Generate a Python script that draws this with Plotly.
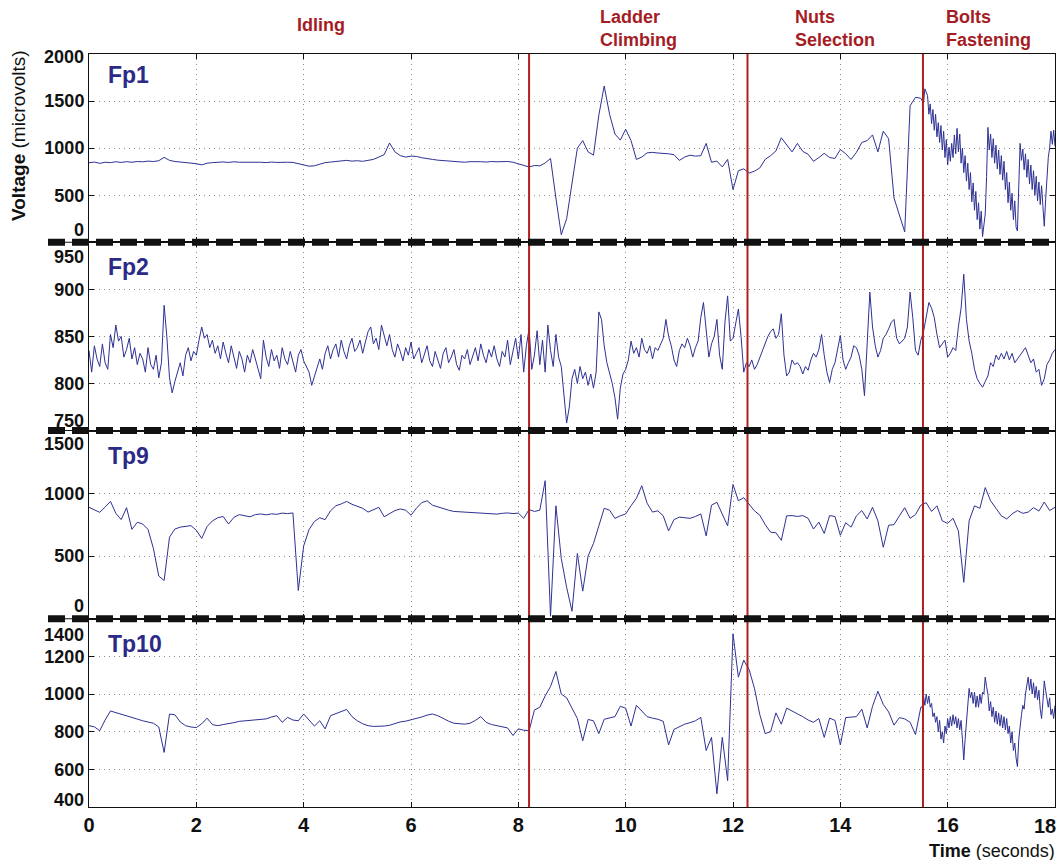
import numpy as np
import plotly.graph_objects as go
from plotly.subplots import make_subplots

# ---------------- data (microvolts) ----------------
# Fp1: 0.0 .. 15.5 s every 0.1 s, then 15.525 .. 18.0 s every 0.025 s
fp1_a = [845, 852, 838, 850, 846, 855, 848, 856, 850, 858,
         855, 862, 858, 866, 902, 870, 858, 852, 848, 845,
         835, 822, 840, 846, 850, 853, 848, 855, 850, 852,
         848, 853, 850, 846, 852, 848, 845, 850, 848, 836,
         816, 808, 812, 830, 846, 852, 858, 866, 870, 862,
         866, 860, 868, 880, 905, 930, 1055, 960, 920, 905,
         915, 912, 898, 886, 880, 872, 868, 860, 855, 852,
         850, 856, 858, 856, 852, 858, 855, 860, 858, 850,
         832, 815, 800, 815, 812, 842, 890, 470, 80, 250,
         620, 1000, 1080, 960, 925, 1350, 1660, 1360, 1150, 1085,
         1200, 1080, 880, 905, 950, 955, 948, 945, 940, 930,
         870, 905, 925, 915, 920, 1050, 850, 862, 800, 880,
         560, 760, 780, 735, 755, 790, 880, 920, 970, 1110,
         1030, 960, 1050, 965, 935, 860, 900, 945, 900, 890,
         985, 940, 880, 955, 1060, 1080, 1140, 960, 1180, 1100,
         470, 280, 110, 1450, 1540, 1530]
fp1_b = [1510, 1480, 1630, 1600, 1560, 1360, 1470, 1260, 1410, 1190,
         1360, 1120, 1270, 1060, 1240, 980, 1180, 900, 1090, 820,
         1010, 860, 1050, 900, 1140, 940, 1210, 960, 1150, 840,
         1000, 740, 920, 650, 840, 560, 740, 430, 630, 340,
         540, 240, 420, 140, 330, 60, 200, 300, 700, 1220,
         980, 1150, 900, 1100, 840, 1030, 780, 980, 720, 920,
         660, 860, 560, 740, 420, 640, 340, 520, 240, 440,
         160, 120, 600, 1050, 870, 990, 770, 940, 690, 880,
         620, 820, 560, 760, 500, 700, 440, 640, 400, 600,
         380, 170, 450, 720, 900, 1000, 1180, 1040, 1190, 1020]

# Fp2: 0.0 .. 18.0 s every 0.05 s
fp2 = [835, 812, 840, 826, 818, 842, 822, 815, 852, 838, 862, 845, 850, 828, 836, 848, 826, 838, 820, 832,
       826, 812, 838, 820, 815, 830, 806, 822, 883, 850, 806, 790, 802, 812, 822, 808, 830, 838, 824, 834,
       830, 846, 860, 848, 852, 838, 846, 832, 840, 826, 844, 832, 822, 840, 828, 816, 834, 826, 812, 830,
       822, 836, 826, 815, 805, 846, 828, 818, 836, 824, 830, 816, 838, 826, 820, 834, 824, 812, 830, 836,
       824, 818, 812, 798, 808, 816, 826, 815, 832, 840, 826, 836, 842, 828, 846, 834, 826, 840, 848, 834,
       838, 846, 832, 844, 855, 860, 842, 848, 836, 862, 850, 840, 852, 836, 828, 842, 834, 824, 838, 830,
       844, 826, 832, 838, 822, 830, 840, 824, 818, 834, 826, 816, 832, 838, 822, 828, 836, 820, 814, 830,
       826, 836, 820, 828, 838, 824, 842, 830, 822, 836, 828, 840, 826, 818, 834, 828, 846, 820, 836, 848,
       826, 852, 812, 840, 858, 815, 830, 856, 820, 846, 812, 862, 835, 818, 852, 828, 818, 790, 758, 775,
       805, 815, 800, 818, 805, 812, 798, 810, 795, 812, 876, 868, 840, 822, 812, 800, 785, 762, 795, 810,
       815, 825, 845, 832, 838, 828, 848, 836, 832, 840, 826, 838, 835, 842, 848, 868, 850, 840, 825, 818,
       835, 842, 838, 848, 840, 828, 838, 845, 870, 886, 860, 828, 842, 850, 868, 830, 815, 865, 893, 845,
       848, 862, 879, 850, 812, 822, 818, 825, 815, 820, 828, 835, 842, 850, 855, 858, 848, 852, 874, 830,
       808, 812, 825, 820, 822, 818, 810, 818, 814, 825, 832, 828, 836, 852, 830, 812, 801, 815, 822, 838,
       851, 825, 815, 822, 828, 840, 838, 830, 815, 787, 844, 897, 860, 840, 828, 835, 848, 852, 858, 865,
       868, 848, 842, 845, 848, 860, 897, 870, 835, 830, 846, 855, 872, 886, 880, 870, 852, 838, 842, 846,
       828, 832, 838, 835, 860, 880, 916, 868, 845, 832, 815, 805, 800, 796, 802, 808, 822, 818, 830, 825,
       832, 826, 834, 825, 832, 822, 826, 830, 835, 838, 830, 822, 826, 812, 815, 798, 805, 820, 825, 832,
       836]

# Tp9: 0.0 .. 18.0 s every 0.1 s
tp9 = [888, 865, 848, 890, 935, 840, 790, 885, 712, 769,
       755, 712, 560, 340, 305, 650, 715, 730, 738, 742,
       705, 640, 735, 780, 805, 815, 755, 808, 830, 822,
       812, 830, 835, 828, 836, 832, 842, 838, 843, 225,
       580, 710, 775, 805, 790, 860, 900, 915, 935, 912,
       898, 880, 850, 870, 888, 812, 840, 862, 875, 865,
       825, 880, 925, 940, 905, 890, 878, 865, 855, 852,
       848, 846, 842, 844, 838, 836, 834, 840, 843, 838,
       842, 800, 870, 855, 865, 1100, 20, 900, 480, 250,
       60, 520, 220, 500, 600, 740, 880, 865, 800, 820,
       835, 900, 960, 1060, 920, 850, 860, 820, 700, 790,
       810, 805, 800, 815, 835, 660, 905, 928, 840, 740,
       1070, 940, 965, 910, 860, 825, 750, 690, 685, 625,
       820, 822, 815, 822, 800, 715, 770, 680, 822, 815,
       665, 765, 730, 820, 862, 795, 888, 780, 570, 745,
       750, 820, 885, 800, 830, 905, 925, 855, 900, 780,
       760, 800, 700, 290, 780, 900, 880, 1045, 940, 880,
       820, 795, 835, 862, 840, 850, 885, 858, 930, 862,
       888]

# Tp10: 0.0 .. 15.5 s every 0.1 s, then 15.525 .. 18.0 s every 0.025 s
tp10_a = [832, 826, 805, 862, 910, 902, 895, 885, 875, 867,
          858, 850, 845, 825, 690, 894, 890, 852, 832, 825,
          822, 842, 872, 838, 832, 838, 842, 848, 855, 858,
          860, 862, 866, 868, 878, 885, 850, 876, 862, 858,
          894, 862, 830, 858, 815, 885, 895, 905, 918, 880,
          858, 842, 832, 828, 828, 830, 834, 845, 852, 856,
          862, 868, 878, 888, 894, 885, 870, 856, 845, 842,
          840, 845, 860, 880, 850, 838, 832, 826, 820, 780,
          815, 808, 805, 915, 930, 990, 1040, 1120, 1000, 980,
          925, 870, 752, 865, 858, 790, 866, 872, 880, 935,
          925, 830, 940, 910, 880, 872, 866, 855, 730, 812,
          825, 840, 848, 858, 876, 700, 770, 470, 770, 540,
          1320, 1090, 1180, 1130, 1030, 890, 790, 800, 900, 840,
          925, 908, 895, 880, 862, 850, 870, 770, 872, 860,
          730, 875, 878, 880, 920, 820, 935, 1015, 945, 905,
          835, 875, 868, 850, 785, 930]
tp10_b = [930, 990, 940, 1000, 950, 990, 930, 950, 880, 900,
          850, 880, 800, 860, 760, 800, 740, 830, 790, 870,
          820, 880, 830, 890, 840, 880, 820, 870, 810, 860,
          760, 650, 760, 860, 930, 1030, 980, 1010, 950, 1010,
          930, 990, 930, 1000, 950, 1010, 1000, 1090, 1040, 1000,
          910, 960, 880, 930, 850, 910, 840, 900, 830, 890,
          820, 880, 810, 870, 790, 830, 740, 800, 700, 740,
          660, 615, 760, 850, 890, 940, 920, 1000, 1040, 1090,
          1020, 1080, 1000, 1060, 980, 1040, 970, 1020, 920, 870,
          960, 1070, 1020, 960, 930, 980, 890, 920, 870, 940]

channel_names = ["Fp1", "Fp2", "Tp9", "Tp10"]
y_ranges = [[0, 2000], [750, 950], [0, 1500], [400, 1400]]
y_inner_ticks = [[500, 1000, 1500], [800, 850, 900], [500, 1000], [600, 800, 1000, 1200]]
x_ticks = [0, 2, 4, 6, 8, 10, 12, 14, 16, 18]
phase_bounds = [8.2, 12.27, 15.54]
phase_names = ["Idling", "Ladder<br>Climbing", "Nuts<br>Selection", "Bolts<br>Fastening"]


def two_rate_time(a, b, step_a, start_b, step_b):
    ta = np.arange(len(a)) * step_a
    tb = start_b + np.arange(len(b)) * step_b
    return np.round(np.concatenate([ta, tb]), 4), list(a) + list(b)


t1, v1 = two_rate_time(fp1_a, fp1_b, 0.1, 15.525, 0.025)
t2, v2 = np.round(np.arange(len(fp2)) * 0.05, 4), fp2
t3, v3 = np.round(np.arange(len(tp9)) * 0.1, 4), tp9
t4, v4 = two_rate_time(tp10_a, tp10_b, 0.1, 15.525, 0.025)
series = [(t1, v1), (t2, v2), (t3, v3), (t4, v4)]

# ---------------- styling ----------------
FONT = "Liberation Sans, Arial, Helvetica, sans-serif"
LINE = "#2E3192"
NAVY = "#2B2A87"
RED = "#B0201F"
TXTRED = "#A51C24"
INK = "#111111"
GRID = "#8c8c8c"
W, H = 1057, 860
ML, MR, MT, MB = 89, 2, 54, 53

fig = make_subplots(rows=4, cols=1, shared_xaxes=True, vertical_spacing=0)

for i, (t, v) in enumerate(series):
    fig.add_trace(go.Scatter(x=t, y=v, mode="lines", line=dict(color=LINE, width=1),
                             showlegend=False, hoverinfo="skip"), row=i + 1, col=1)

x_ticktext = [str(x) if x != x_ticks[-1] else "" for x in x_ticks]

for i in range(4):
    r = i + 1
    fig.update_yaxes(range=y_ranges[i], tickvals=y_inner_ticks[i], ticks="inside", ticklen=5,
                     tickcolor=INK, showline=True, linecolor=INK, linewidth=1, mirror="ticks",
                     showgrid=True, gridcolor=GRID, griddash="1px,4px", gridwidth=1,
                     zeroline=False, tickfont=dict(family=FONT, size=18, color=INK, weight="bold"),
                     row=r, col=1)
    fig.update_xaxes(range=[0, 18], tickvals=x_ticks, ticktext=x_ticktext, ticks="inside", ticklen=5,
                     tickcolor=INK, showline=True, linecolor=INK, linewidth=1, mirror="ticks",
                     showgrid=True, gridcolor=GRID, griddash="1px,4px", gridwidth=1, zeroline=False,
                     showticklabels=(r == 4),
                     tickfont=dict(family=FONT, size=20, color=INK, weight="bold"),
                     row=r, col=1)

annotations = []
# edge tick labels (shifted inward like the original)
edge_shift = [(12, -3), (10, -15), (13, -13), (7, -16)]
for i in range(4):
    yref = "y" if i == 0 else f"y{i + 1}"
    lo, hi = y_ranges[i]
    for val, sh in ((lo, edge_shift[i][0]), (hi, edge_shift[i][1])):
        annotations.append(dict(xref="paper", yref=yref, x=0, y=val, xanchor="right", yanchor="middle",
                                xshift=-3, yshift=sh, text=str(val), showarrow=False,
                                font=dict(family=FONT, size=18, color=INK, weight="bold")))
    # channel name
    annotations.append(dict(xref="paper", yref=f"{yref} domain", x=0, y=1, xanchor="left",
                            yanchor="middle", xshift=17, yshift=(-21 if i == 0 else -25),
                            text=f"<b>{channel_names[i]}</b>", showarrow=False,
                            font=dict(family=FONT, size=23, color=NAVY)))

# last x tick label, kept inside the figure like the original
annotations.append(dict(xref="x4", yref="paper", x=x_ticks[-1], y=0, xanchor="right", yanchor="middle",
                        xshift=3, yshift=-19, text=str(x_ticks[-1]), showarrow=False,
                        font=dict(family=FONT, size=20, color=INK, weight="bold")))

# phase labels, centred in each phase
bounds = [0] + phase_bounds + [18]
for k, name in enumerate(phase_names):
    xm = (bounds[k] + bounds[k + 1]) / 2
    annotations.append(dict(xref="x4", yref="paper", x=xm, y=1, yanchor="middle", xanchor="center",
                            align="left", yshift=(29 if k == 0 else 26), xshift=(12 if k == 0 else 0),
                            text=f"<b>{name}</b>", showarrow=False,
                            font=dict(family=FONT, size=18, color=TXTRED)))

# axis titles
annotations.append(dict(xref="paper", yref="paper", x=-71 / 966, y=(807 - 136) / 753, textangle=-90,
                        xanchor="center", yanchor="middle", showarrow=False,
                        text="<b>Voltage</b> (microvolts)",
                        font=dict(family=FONT, size=19, color=INK)))
annotations.append(dict(xref="paper", yref="paper", x=1, y=(807 - 851) / 753, xanchor="right",
                        yanchor="middle", showarrow=False, xshift=2,
                        text="<b>Time</b> (seconds)", font=dict(family=FONT, size=18, color=INK)))

shapes = []
# phase boundaries
for b in phase_bounds:
    shapes.append(dict(type="line", xref="x4", yref="paper", x0=b, x1=b, y0=0, y1=1,
                       line=dict(color=RED, width=2), layer="above"))
# thick dashed separators between channels
for yb in (0.25, 0.5, 0.75):
    shapes.append(dict(type="line", xref="paper", yref="paper", x0=-41 / 966, x1=1.0, y0=yb, y1=yb,
                       line=dict(color=INK, width=1), layer="above"))
    shapes.append(dict(type="line", xref="paper", yref="paper", x0=-41 / 966, x1=1.0, y0=yb, y1=yb,
                       line=dict(color=INK, width=7, dash="17px,7px"), layer="above"))

fig.update_layout(width=W, height=H, margin=dict(l=ML, r=MR, t=MT, b=MB),
                  paper_bgcolor="white", plot_bgcolor="white",
                  annotations=annotations, shapes=shapes, showlegend=False,
                  font=dict(family=FONT, color=INK))

fig.write_html("out.html")
